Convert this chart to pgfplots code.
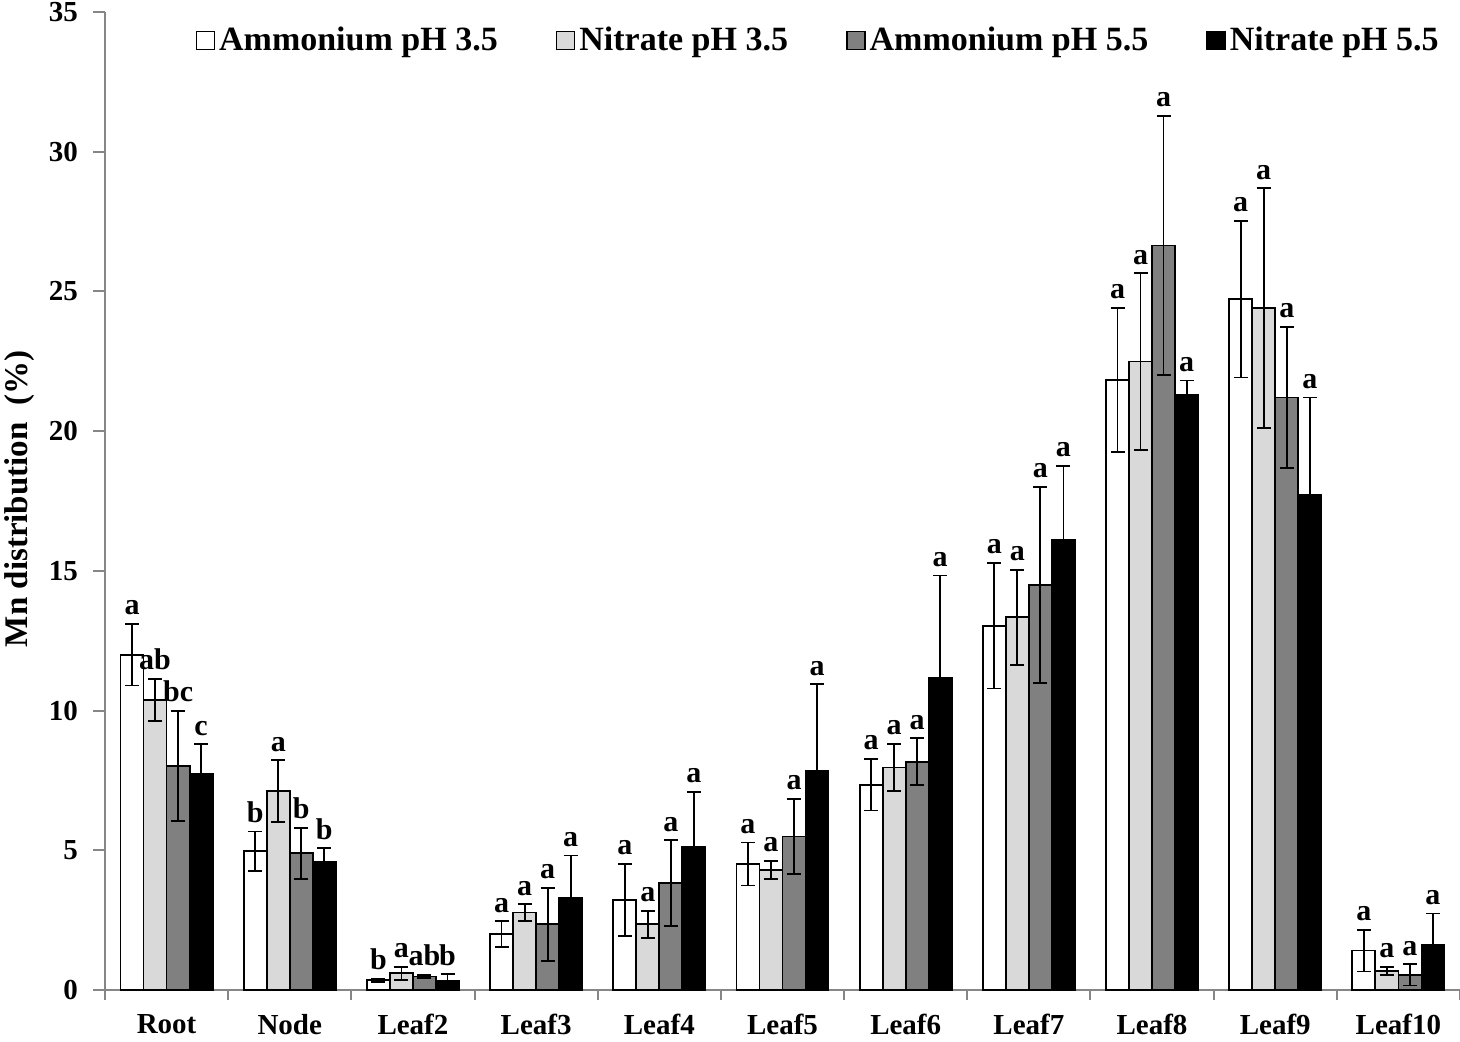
\documentclass[border=0pt]{standalone}
\usepackage{fontspec}
\setmainfont{Liberation Serif}
\usepackage{pgfplots}
\usepackage{pgfplotstable}
\pgfplotsset{compat=1.18}

\definecolor{axgray}{RGB}{134,134,134}
\definecolor{lgray}{RGB}{217,217,217}
\definecolor{dgray}{RGB}{128,128,128}

\pgfplotstableread{
x y e lab
0 12.0 1.10 a
1 4.97 0.70 b
2 0.35 0.05 b
3 2.00 0.46 a
4 3.22 1.30 a
5 4.51 0.77 a
6 7.34 0.92 a
7 13.04 2.25 a
8 21.83 2.57 a
9 24.72 2.80 a
10 1.41 0.75 a
}\sA
\pgfplotstableread{
x y e lab
0 10.38 0.75 ab
1 7.12 1.10 a
2 0.60 0.23 a
3 2.77 0.30 a
4 2.35 0.49 a
5 4.29 0.33 a
6 7.96 0.84 a
7 13.34 1.70 a
8 22.49 3.16 a
9 24.40 4.29 a
10 0.68 0.15 a
}\sB
\pgfplotstableread{
x y e lab
0 8.02 1.97 bc
1 4.89 0.92 b
2 0.48 0.05 ab
3 2.35 1.30 a
4 3.82 1.54 a
5 5.49 1.35 a
6 8.17 0.84 a
7 14.50 3.50 a
8 26.64 4.64 a
9 21.20 2.52 a
10 0.54 0.38 a
}\sC
\pgfplotstableread{
x y e lab
0 7.73 1.06 c
1 4.59 0.48 b
2 0.32 0.24 b
3 3.30 1.51 a
4 5.13 1.97 a
5 7.85 3.09 a
6 11.16 3.67 a
7 16.10 2.65 a
8 21.30 0.51 a
9 17.72 3.48 a
10 1.63 1.11 a
}\sD

\begin{document}
\begin{tikzpicture}
\begin{axis}[
  scale only axis,
  width=677.5pt, height=489pt,
  ybar=0pt, bar width=0.187,
  xmin=-0.5, xmax=10.5,
  ymin=0, ymax=35,
  ytick={0,5,...,35},
  xtick={0,...,10},
  xticklabels={Root,Node,Leaf2,Leaf3,Leaf4,Leaf5,Leaf6,Leaf7,Leaf8,Leaf9,Leaf10},
  minor xtick={-0.5,0.5,...,10.5},
  major x tick style={draw=none},
  axis x line*=bottom, axis y line*=left,
  axis line style={draw=axgray, line width=1pt},
  tick align=outside,
  major tick length=6pt, minor tick length=5pt,
  every tick/.style={axgray, line width=1pt},
  minor x tick style={axgray, line width=1pt},
  /pgf/number format/assume math mode=true,
  yticklabel style={font=\fontsize{14.5}{16}\selectfont\bfseries, xshift=-4pt},
  xticklabel style={font=\fontsize{14.5}{16}\selectfont\bfseries, yshift=-2.5pt},
  ylabel={Mn distribution\ \ (\%)},
  ylabel style={font=\fontsize{16.5}{18}\selectfont\bfseries, at={(axis description cs:-0.0627,0.502)}, anchor=center},
  legend columns=4,
  legend style={draw=none, fill=none, at={(axis description cs:0.527,0.971)}, anchor=center,
     font=\fontsize{17}{19}\selectfont\bfseries,
     /tikz/every even column/.append style={column sep=27pt}},
  legend image code/.code={\draw[#1, draw=black, line width=0.8pt] (0pt,-4.5pt) rectangle (9pt,4.5pt);},
  error bars/y dir=both, error bars/y explicit,
  error bars/error bar style={black, line width=0.9pt},
  error bars/error mark options={rotate=90, mark size=3.5pt, black, line width=0.9pt},
  point meta=explicit symbolic,
  nodes near coords,
  visualization depends on={\thisrow{e} \as \myerr},
  every node near coord/.append style={font=\fontsize{15}{17}\selectfont\bfseries, black, anchor=south, inner sep=1pt, yshift=3pt, shift={(axis direction cs:0,\myerr)}},
  clip=false,
]
\addplot[draw=black, line width=0.9pt, fill=white] table[x=x, y=y, y error=e, meta=lab]{\sA};
\addlegendentry{Ammonium pH 3.5}
\addplot[draw=black, line width=0.9pt, fill=lgray] table[x=x, y=y, y error=e, meta=lab]{\sB};
\addlegendentry{Nitrate pH 3.5}
\addplot[draw=black, line width=0.9pt, fill=dgray] table[x=x, y=y, y error=e, meta=lab]{\sC};
\addlegendentry{Ammonium pH 5.5}
\addplot[draw=black, line width=0.9pt, fill=black] table[x=x, y=y, y error=e, meta=lab]{\sD};
\addlegendentry{Nitrate pH 5.5}
\coordinate (ll) at (rel axis cs:0,0);
\coordinate (ur) at (rel axis cs:1,1);
\end{axis}
\pgfresetboundingbox
\path[use as bounding box] ([shift={(-52.5pt,-26pt)}]ll) rectangle ([shift={(0pt,6pt)}]ur);
\end{tikzpicture}
\end{document}
